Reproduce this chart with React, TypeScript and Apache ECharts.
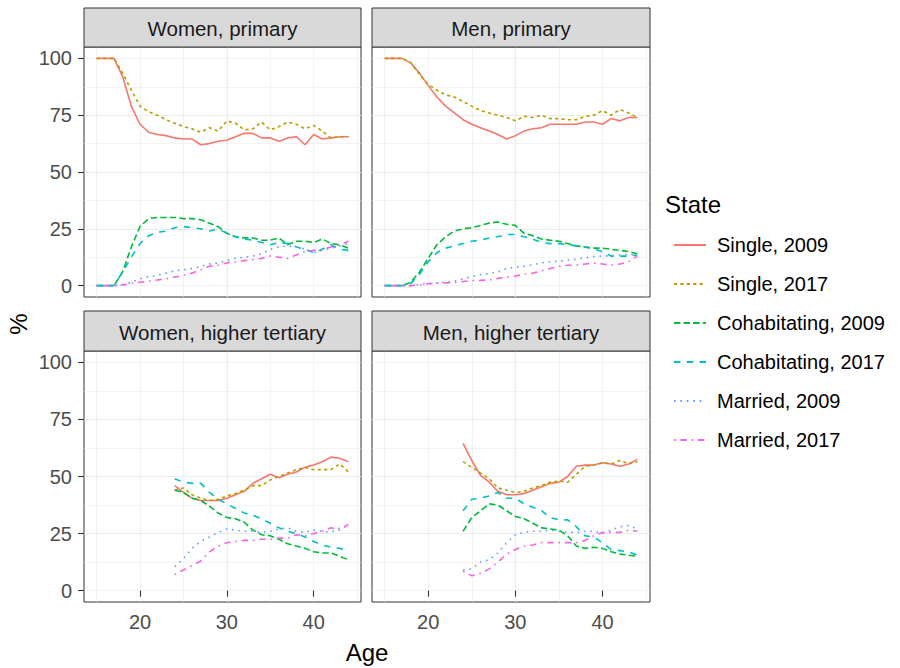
import React, { useEffect, useRef } from "react";
import * as echarts from "echarts";

// ---------- data ----------
const agesPrimary = [15, 16, 17, 18, 19, 20, 21, 22, 23, 24, 25, 26, 27, 28, 29, 30, 31, 32, 33, 34, 35, 36, 37, 38, 39, 40, 41, 42, 43, 44];
const agesTertiary = [24, 25, 26, 27, 28, 29, 30, 31, 32, 33, 34, 35, 36, 37, 38, 39, 40, 41, 42, 43, 44];

const stateNames = ["Single, 2009", "Single, 2017", "Cohabitating, 2009", "Cohabitating, 2017", "Married, 2009", "Married, 2017"];
const panelTitles = ["Women, primary", "Men, primary", "Women, higher tertiary", "Men, higher tertiary"];
const xTickLabels = [20, 30, 40];
const yTickLabels = [0, 25, 50, 75, 100];

// Women, primary
const wpSingle09 = [100, 100, 100, 92, 79, 71, 67.5, 66.5, 66, 65, 64.5, 64.5, 62, 62.5, 63.5, 64, 65.5, 67, 67, 65, 65, 63.5, 65, 65.5, 62, 66.5, 64.5, 65, 65.5, 65.5];
const wpSingle17 = [100, 100, 100, 93.5, 86, 79, 76.5, 75, 73, 71.5, 70, 69, 67.5, 69.5, 68, 72.5, 71.5, 68.5, 69, 72, 68.5, 70, 72, 71, 69, 70.5, 68, 65, 65.5, 65.5];
const wpCohab09 = [0, 0, 0, 6, 17, 26, 29.5, 30, 30, 30, 29.5, 29.5, 29, 27.5, 26, 23, 21.5, 21, 21, 20, 20, 21, 18, 19.5, 19.5, 19, 20.5, 18.5, 18, 16.5];
const wpCohab17 = [0, 0, 0, 6, 12.5, 18.5, 22, 23.5, 24, 25.5, 26, 25.5, 25, 24, 25, 23, 21.5, 20.5, 20, 19, 18, 19, 18.5, 17, 16, 14.5, 16, 18, 16, 15.5];
const wpMarried09 = [0, 0, 0, 0.5, 1.5, 3, 4, 4.5, 5.5, 6.5, 7, 7.5, 8.5, 9.5, 10, 11, 12, 12.5, 13, 14, 16, 17, 17.5, 17, 16, 14.5, 15.5, 16.5, 17.5, 18.5];
const wpMarried17 = [0, 0, 0, 0.3, 1, 1.5, 2, 2.5, 3, 3.8, 4.5, 5.5, 7, 8.5, 9, 10, 10.5, 11, 11.5, 12, 13, 12.5, 12, 13.5, 15, 15.5, 16, 17, 18, 19.5];

// Men, primary
const mpSingle09 = [100, 100, 100, 98, 93.5, 88, 83, 79, 76, 73, 71, 69.5, 68, 66.5, 64.5, 66, 68, 69, 69.5, 71, 71, 71, 71, 72, 72, 71, 73.5, 72.5, 74, 74];
const mpSingle17 = [100, 100, 100, 98, 93, 88.5, 86, 84, 83, 81, 79, 77, 76, 75, 74, 72.5, 74.5, 74, 75, 73.5, 73.5, 73, 73, 74.5, 75, 77, 75, 77.5, 76, 74];
const mpCohab09 = [0, 0, 0, 1.5, 6, 12, 18, 21.5, 24, 25, 25.5, 26.5, 27.5, 28, 27, 26.5, 23, 22, 20.5, 20, 19.5, 18.5, 17.5, 17, 16.5, 16.5, 16, 15.5, 15, 14];
const mpCohab17 = [0, 0, 0, 1, 5, 10.5, 14.5, 16.5, 17.5, 18.5, 19.5, 20, 21, 21.5, 22.5, 22.5, 21.5, 20.5, 19, 18.5, 18.5, 18, 17.5, 17, 16, 15, 13, 13, 13, 13.5];
const mpMarried09 = [0, 0, 0, 0, 0.5, 1, 1.2, 1.5, 2, 3, 4, 4.8, 5.3, 6, 7.5, 8.2, 8.5, 9.2, 10, 10.5, 10.8, 11.2, 11.6, 12.2, 12.8, 13, 13.2, 13.5, 13.6, 13.8];
const mpMarried17 = [0, 0, 0, 0, 0.3, 0.8, 1, 1.2, 1.4, 1.8, 2.2, 2.3, 2.5, 3.2, 3.7, 4.2, 5, 5.5, 6.5, 7.5, 8.5, 9, 9, 9.5, 9.9, 9.5, 9, 9.5, 10.5, 13];

// Women, higher tertiary
const whtSingle09 = [46, 43, 40.5, 39.5, 39.5, 39.5, 40.5, 42, 43.5, 47, 49, 51, 49.5, 51, 52, 54, 55, 56.5, 58.5, 58, 56.5];
const whtSingle17 = [44, 45, 42, 40.5, 39.5, 40, 41.5, 42.5, 44, 46, 46, 48.5, 50, 51.5, 53, 54, 53, 53, 53, 55.5, 52];
const whtCohab09 = [44, 43, 40.5, 39.5, 37, 34, 32, 31.5, 30, 26.5, 24.5, 24, 22.5, 20.5, 19.5, 18.5, 17, 16.5, 16.5, 15, 13.5];
const whtCohab17 = [49, 47.5, 47, 47, 43, 40, 38, 36, 34, 33, 31.5, 29.5, 27.5, 26, 25, 23.5, 21.5, 20, 19, 18.5, 17.5];
const whtMarried09 = [10.5, 14, 18.5, 21.5, 23.5, 25.5, 27, 26.5, 26, 26, 25.5, 26, 27, 27.5, 26, 25.5, 26.5, 26, 25.5, 27.5, 28.5];
const whtMarried17 = [7, 9, 11, 13, 17, 19.5, 21, 21.5, 22, 22, 22.5, 22.5, 23, 23, 24.5, 24, 25, 26, 27.5, 26.5, 29];

// Men, higher tertiary
const mhtSingle09 = [64.5, 57, 50.5, 47.5, 43.5, 42, 42, 42.5, 44, 45.5, 47, 47.5, 50, 54.5, 55, 55, 56, 55.5, 54.5, 55.5, 57.5];
const mhtSingle17 = [56.5, 54, 51.5, 49, 45, 44, 43, 43.5, 45, 46, 47.5, 48, 47.5, 51, 54.5, 55, 56, 55.5, 57, 55.5, 56.5];
const mhtCohab09 = [26, 32, 35, 38, 37.5, 35, 32.5, 31.5, 29.5, 27.5, 27, 26.5, 24, 19.5, 18.5, 19, 18.5, 17, 16, 15.5, 15];
const mhtCohab17 = [35, 40, 40.5, 41.5, 43, 40.5, 40.5, 38, 36.5, 35, 32, 31, 31, 28, 24, 23.5, 21, 18, 17.5, 17, 15.5];
const mhtMarried09 = [9, 9.5, 12.5, 13.5, 16.5, 21, 24.5, 25.5, 26, 26, 26.5, 26, 25.5, 25.5, 26, 26, 25, 26.5, 28, 28.5, 27];
const mhtMarried17 = [8.5, 6.5, 7.5, 9.5, 12.5, 16, 18, 19.5, 20, 21, 21, 21, 21, 21, 22, 24, 25.5, 25.5, 25.5, 26.5, 26];

// ---------- styling ----------
const stateColors = ["#F8766D", "#B79F00", "#00BA38", "#00BFC4", "#619CFF", "#F564E3"];
const stateDashes: any[] = ["solid", [3.2, 3.2], [6.4, 3.2], [6.4, 6.4], [1.6, 4.8], [1.6, 4.8, 6.4, 4.8]];

const panelData = [
  { ages: agesPrimary, series: [wpSingle09, wpSingle17, wpCohab09, wpCohab17, wpMarried09, wpMarried17] },
  { ages: agesPrimary, series: [mpSingle09, mpSingle17, mpCohab09, mpCohab17, mpMarried09, mpMarried17] },
  { ages: agesTertiary, series: [whtSingle09, whtSingle17, whtCohab09, whtCohab17, whtMarried09, whtMarried17] },
  { ages: agesTertiary, series: [mhtSingle09, mhtSingle17, mhtCohab09, mhtCohab17, mhtMarried09, mhtMarried17] },
];

const panelLayout = [
  { left: 84, top: 47, width: 277, height: 250, stripTop: 8, showX: false, showY: true },
  { left: 372, top: 47, width: 278, height: 250, stripTop: 8, showX: false, showY: false },
  { left: 84, top: 351, width: 277, height: 251, stripTop: 311, showX: true, showY: true },
  { left: 372, top: 351, width: 278, height: 251, stripTop: 311, showX: true, showY: false },
];

const FONT = "'Liberation Sans', Arial, sans-serif";
const X_MIN = 13.55, X_MAX = 45.45, Y_MIN = -5, Y_MAX = 105;
const GRID_COLOR = "#EBEBEB";

function buildOption() {
  const grid = panelLayout.map((p) => ({
    left: p.left, top: p.top, width: p.width, height: p.height,
    show: true, backgroundColor: "#FFFFFF", borderColor: "#333333", borderWidth: 1,
    containLabel: false, outerBoundsMode: "none",
  }));

  const fmt = (allowed: number[]) => (v: number) =>
    allowed.some((a) => Math.abs(a - v) < 1e-6) ? String(Math.round(v)) : "";

  const xAxis: any[] = [];
  const yAxis: any[] = [];
  panelLayout.forEach((p, i) => {
    xAxis.push({
      type: "value", gridIndex: i, min: X_MIN, max: X_MAX, minInterval: 10, maxInterval: 10,
      axisLine: { show: false },
      axisTick: { show: p.showX, length: 6, customValues: xTickLabels, lineStyle: { color: "#333333", width: 1.1 } },
      axisLabel: { show: p.showX, customValues: xTickLabels, formatter: fmt(xTickLabels), margin: 10, color: "#4D4D4D", fontSize: 20, fontFamily: FONT },
      splitLine: { show: true, showMinLine: false, showMaxLine: false, lineStyle: { color: GRID_COLOR, width: 1.2 } },
    });
    xAxis.push({
      type: "value", gridIndex: i, min: X_MIN, max: X_MAX, minInterval: 5, maxInterval: 5,
      axisLine: { show: false }, axisTick: { show: false }, axisLabel: { show: false },
      splitLine: { show: true, showMinLine: false, showMaxLine: false, lineStyle: { color: GRID_COLOR, width: 0.6 } },
    });
    yAxis.push({
      type: "value", gridIndex: i, min: Y_MIN, max: Y_MAX, minInterval: 25, maxInterval: 25,
      axisLine: { show: false },
      axisTick: { show: p.showY, length: 6, customValues: yTickLabels, lineStyle: { color: "#333333", width: 1.1 } },
      axisLabel: { show: p.showY, customValues: yTickLabels, formatter: fmt(yTickLabels), margin: 12, color: "#4D4D4D", fontSize: 20, fontFamily: FONT },
      splitLine: { show: true, showMinLine: false, showMaxLine: false, lineStyle: { color: GRID_COLOR, width: 1.2 } },
    });
    yAxis.push({
      type: "value", gridIndex: i, min: Y_MIN, max: Y_MAX, minInterval: 12.5, maxInterval: 12.5, position: "left",
      axisLine: { show: false }, axisTick: { show: false }, axisLabel: { show: false },
      splitLine: { show: true, showMinLine: false, showMaxLine: false, lineStyle: { color: GRID_COLOR, width: 0.6 } },
    });
  });

  const series: any[] = [];
  panelData.forEach((pd, i) => {
    pd.series.forEach((vals, s) => {
      series.push({
        type: "line",
        name: stateNames[s],
        xAxisIndex: 2 * i,
        yAxisIndex: 2 * i,
        data: pd.ages.map((a, k) => [a, vals[k]]),
        symbol: "none",
        showSymbol: false,
        color: stateColors[s],
        lineStyle: { color: stateColors[s], width: 1.6, type: stateDashes[s], cap: "butt" },
        z: 3,
        silent: true,
      });
    });
  });

  const graphic: any[] = [];
  panelLayout.forEach((p, i) => {
    const h = p.top - p.stripTop;
    graphic.push({
      type: "rect", z: 10,
      shape: { x: p.left, y: p.stripTop, width: p.width, height: h },
      style: { fill: "#D9D9D9", stroke: "#333333", lineWidth: 1 },
    });
    graphic.push({
      type: "text", z: 11,
      x: p.left + p.width / 2, y: p.stripTop + h / 2 + 1,
      style: { text: panelTitles[i], fill: "#1A1A1A", fontSize: 20.5, fontFamily: FONT, align: "center", verticalAlign: "middle" },
    });
  });
  graphic.push({
    type: "text", z: 11, x: 18, y: 324, rotation: Math.PI / 2,
    style: { text: "%", fill: "#000000", fontSize: 24, fontFamily: FONT, align: "center", verticalAlign: "middle" },
  });
  graphic.push({
    type: "text", z: 11, x: 367, y: 652,
    style: { text: "Age", fill: "#000000", fontSize: 24, fontFamily: FONT, align: "center", verticalAlign: "middle" },
  });
  graphic.push({
    type: "text", z: 11, x: 665, y: 204,
    style: { text: "State", fill: "#000000", fontSize: 24, fontFamily: FONT, align: "left", verticalAlign: "middle" },
  });

  return {
    animation: false,
    backgroundColor: "#FFFFFF",
    textStyle: { fontFamily: FONT },
    grid,
    xAxis,
    yAxis,
    series,
    graphic,
    legend: {
      data: stateNames,
      orient: "vertical",
      left: 668,
      top: 230,
      itemWidth: 32,
      itemHeight: 20,
      itemGap: 19,
      selectedMode: false,
      itemStyle: { opacity: 0, borderWidth: 0 },
      textStyle: { fontSize: 20, color: "#000000", fontFamily: FONT, padding: [0, 0, 0, 6] },
    },
  };
}

export default function App() {
  const ref = useRef<HTMLDivElement>(null);
  useEffect(() => {
    document.body.style.margin = "0";
    if (!ref.current) return;
    const chart = echarts.init(ref.current, null, { renderer: "svg" });
    chart.setOption(buildOption() as any);
    return () => chart.dispose();
  }, []);
  return <div ref={ref} style={{ width: 900, height: 668 }} />;
}
